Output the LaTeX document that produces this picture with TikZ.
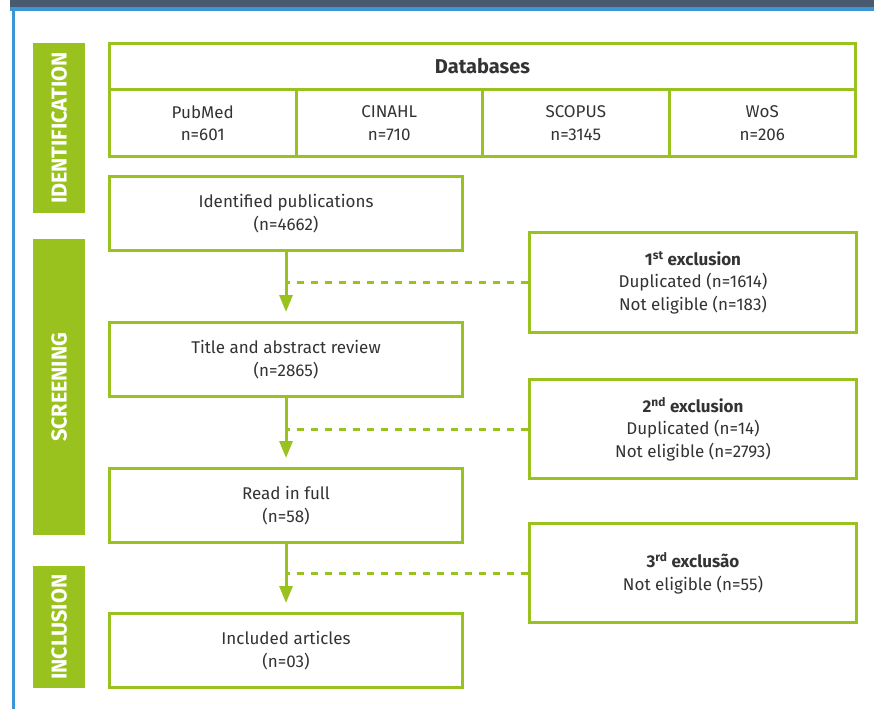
\documentclass[tikz,border=0pt]{standalone}
\usepackage{fontspec}
\setmainfont{Fira Sans}
\usetikzlibrary{arrows.meta}
\definecolor{leaf}{HTML}{9AC21E}
\definecolor{ink}{HTML}{333333}
\definecolor{slate}{HTML}{4A5A6E}
\definecolor{rule}{HTML}{3A96D4}
\tikzset{
  box/.style={draw=leaf, line width=3pt, fill=white, anchor=north west,
    align=center, text=ink, inner sep=0pt,
    font=\fontsize{17}{22.5}\selectfont},
  phase/.style={fill=leaf, anchor=north west, inner sep=0pt},
  phasetext/.style={text=white, rotate=90,
    font=\bfseries\fontsize{21.5}{24}\selectfont},
  flow/.style={draw=leaf, line width=3pt,
    -{Triangle[length=17pt,width=13pt]}, shorten >=9pt},
  link/.style={draw=leaf, line width=3pt, dash pattern=on 7pt off 7pt}
}
\begin{document}
\begin{tikzpicture}[x=1pt,y=-1pt]
\useasboundingbox (0,0) rectangle (874,709);
% page frame
\fill[slate] (10,0) rectangle (874,7.5);
\fill[rule] (10,7.5) rectangle (874,11.5);
\fill[rule] (12,7.5) rectangle (15,709);

% phase labels
\node[phase, minimum width=52, minimum height=170] (idp) at (33,43) {};
\node[phasetext] at (idp.center) {IDENTIFICATION};
\node[phase, minimum width=52, minimum height=296] (scp) at (33,239) {};
\node[phasetext] at (scp.center) {SCREENING};
\node[phase, minimum width=52, minimum height=122] (inp) at (33,566) {};
\node[phasetext] at (inp.center) {INCLUSION};

% databases table
\node[box, minimum width=746, minimum height=46,
  font=\bfseries\fontsize{20}{22}\selectfont] (db) at (108,42) {Databases};
\node[box, minimum width=186.5, minimum height=67] (pm) at (108,88) {PubMed\\n=601};
\node[box, minimum width=186.5, minimum height=67] (ci) at (294.5,88) {CINAHL\\n=710};
\node[box, minimum width=186.5, minimum height=67] (sc) at (481,88) {SCOPUS\\n=3145};
\node[box, minimum width=186.5, minimum height=67] (ws) at (667.5,88) {WoS\\n=206};

% main flow
\node[box, minimum width=353, minimum height=74] (idf) at (108,175) {Identified publications\\(n=4662)};
\node[box, minimum width=353, minimum height=74] (tar) at (108,321) {Title and abstract review\\(n=2865)};
\node[box, minimum width=353, minimum height=74] (rif) at (108,467) {Read in full\\(n=58)};
\node[box, minimum width=353, minimum height=74] (inc) at (108,612) {Included articles\\(n=03)};

% exclusions
\node[box, minimum width=327, minimum height=100] (ex1) at (528,231)
  {\textbf{1\textsuperscript{st} exclusion}\\Duplicated (n=1614)\\Not eligible (n=183)};
\node[box, minimum width=327, minimum height=99] (ex2) at (528,378)
  {\textbf{2\textsuperscript{nd} exclusion}\\Duplicated (n=14)\\Not eligible (n=2793)};
\node[box, minimum width=327, minimum height=99] (ex3) at (528,522)
  {\textbf{3\textsuperscript{rd} exclusão}\\Not eligible (n=55)};

% arrows
\draw[flow] (idf.south) -- (tar.north);
\draw[flow] (tar.south) -- (rif.north);
\draw[flow] (rif.south) -- (inc.north);

% exclusion links
\coordinate (j1) at (idf.south |- ex1.west);
\coordinate (j2) at (tar.south |- ex2.west);
\coordinate (j3) at (rif.south |- ex3.west);
\draw[link] (ex1.west) -- (j1);
\draw[link] (ex2.west) -- (j2);
\draw[link] (ex3.west) -- (j3);
\end{tikzpicture}
\end{document}
